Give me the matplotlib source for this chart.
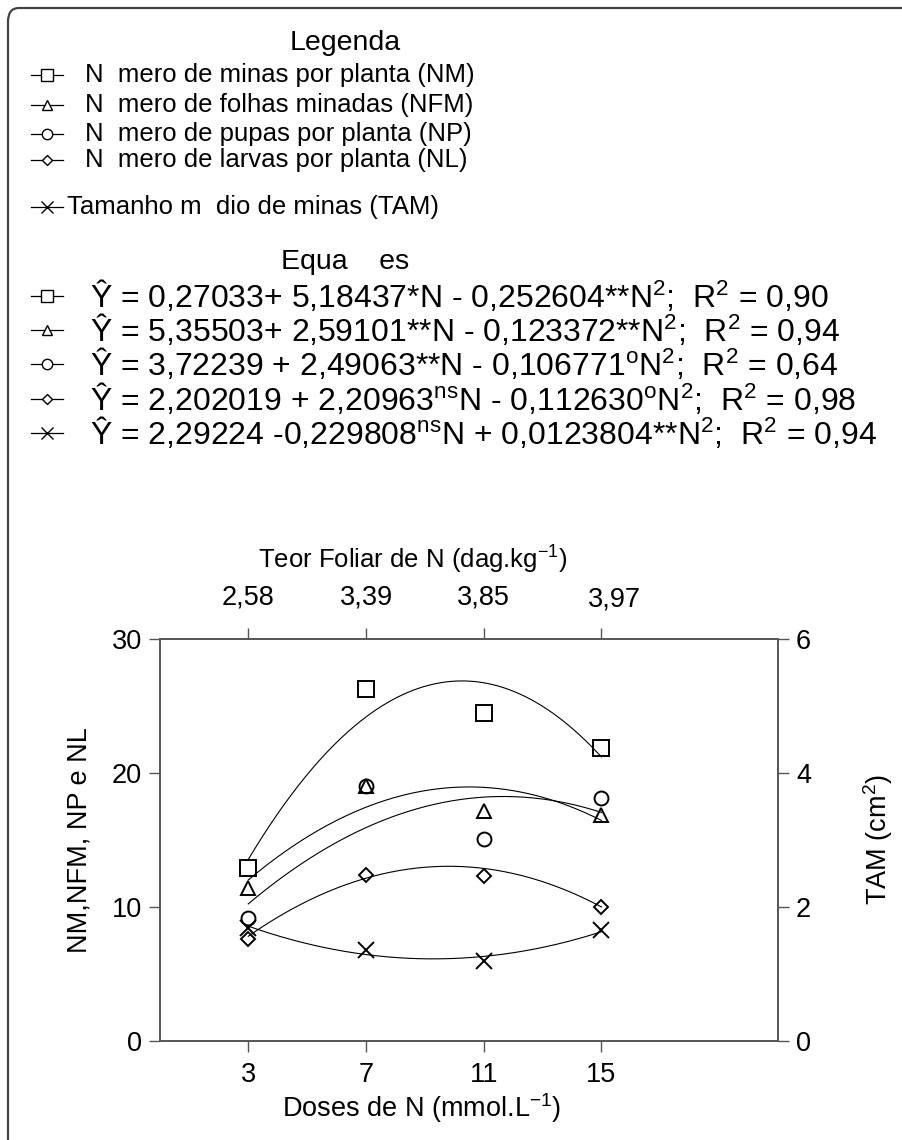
import matplotlib
matplotlib.use("Agg")
import matplotlib.pyplot as plt
import numpy as np
from matplotlib.lines import Line2D
from matplotlib.patches import FancyBboxPatch

plt.rcParams['font.family'] = ['Liberation Sans', 'DejaVu Sans']
plt.rcParams['mathtext.default'] = 'regular'

# ---------------- data ----------------
doses = [3, 7, 11, 15]
teor_foliar = ["2,58", "3,39", "3,85", "3,97"]
nm = [12.9, 26.3, 24.5, 21.9]
nfm = [11.4, 19.0, 17.2, 16.9]
np_pupas = [9.2, 19.0, 15.1, 18.1]
nl = [7.6, 12.4, 12.3, 10.0]
tam = [1.68, 1.36, 1.19, 1.65]

# fitted quadratic coefficients (b0, b1, b2) printed in the chart
coef_nm = [0.27033, 5.18437, -0.252604]
coef_nfm = [5.35503, 2.59101, -0.123372]
coef_np = [3.72239, 2.49063, -0.106771]
coef_nl = [2.202019, 2.20963, -0.112630]
coef_tam = [2.29224, -0.229808, 0.0123804]

legend_labels = [
    "N  mero de minas por planta (NM)",
    "N  mero de folhas minadas (NFM)",
    "N  mero de pupas por planta (NP)",
    "N  mero de larvas por planta (NL)",
    "Tamanho m  dio de minas (TAM)",
]
equations = [
    "Ŷ = 0,27033+ 5,18437*N - 0,252604**N$^{2}$;  R$^{2}$ = 0,90",
    "Ŷ = 5,35503+ 2,59101**N - 0,123372**N$^{2}$;  R$^{2}$ = 0,94",
    "Ŷ = 3,72239 + 2,49063**N - 0,106771$^{o}$N$^{2}$;  R$^{2}$ = 0,64",
    "Ŷ = 2,202019 + 2,20963$^{ns}$N - 0,112630$^{o}$N$^{2}$;  R$^{2}$ = 0,98",
    "Ŷ = 2,29224 -0,229808$^{ns}$N + 0,0123804**N$^{2}$;  R$^{2}$ = 0,94",
]
markers = ['s', '^', 'o', 'D', 'x']
msizes = [11, 10, 10, 7, 12]

W, H = 902, 1140
fig = plt.figure(figsize=(W / 100, H / 100), dpi=100)

def fx(px):
    return px / W

def fy(py):
    return 1 - py / H

LEG = 18.5    # legend text size
EQ = 23       # equation text size
AX = 19.5     # axis text size

# outer rounded frame
frame = FancyBboxPatch((fx(8), fy(1160)), fx(920) - fx(8), fy(8) - fy(1160),
                       boxstyle="round,pad=0,rounding_size=0.012",
                       transform=fig.transFigure, fill=False,
                       edgecolor='#444444', linewidth=1.6)
fig.patches.append(frame)

def key(yy, mk, ms):
    fig.lines.append(Line2D([fx(31), fx(63)], [fy(yy), fy(yy)], color='black',
                            lw=0.9, transform=fig.transFigure))
    fig.lines.append(Line2D([fx(47)], [fy(yy)], marker=mk, markersize=ms * 0.75,
                            mfc='white', mec='black', mew=1.0, color='black',
                            transform=fig.transFigure))

# legend block
fig.text(fx(345), fy(43), "Legenda", ha='center', va='center', fontsize=20.5)
leg_y = [75, 105, 134, 160, 207]
leg_x = [85, 85, 85, 85, 67]
for lab, yy, xx, mk, ms in zip(legend_labels, leg_y, leg_x, markers, msizes):
    key(yy, mk, ms)
    fig.text(fx(xx), fy(yy), lab, ha='left', va='center', fontsize=LEG)

fig.text(fx(345), fy(262), "Equa    es", ha='center', va='center', fontsize=20.5)
eq_y = [296, 330, 364, 399, 433]
for eq, yy, mk, ms in zip(equations, eq_y, markers, msizes):
    key(yy, mk, ms)
    fig.text(fx(90), fy(yy), eq, ha='left', va='center', fontsize=EQ)

# main axes
left, right, top, bottom = 160, 778, 639, 1041
ax = fig.add_axes([fx(left), fy(bottom), fx(right) - fx(left), fy(top) - fy(bottom)])
ax2 = ax.twinx()

ax.set_xlim(0, 21)
ax.set_ylim(0, 30)
ax2.set_ylim(0, 6)

xs = np.linspace(doses[0], doses[-1], 200)

def quad(c, x):
    return c[0] + c[1] * x + c[2] * x ** 2

for vals, coef, mk, ms in zip([nm, nfm, np_pupas, nl], [coef_nm, coef_nfm, coef_np, coef_nl],
                              markers[:4], msizes[:4]):
    ax.plot(xs, quad(coef, xs), color='black', lw=0.8)
    ax.plot(doses, vals, linestyle='none', marker=mk, markersize=ms,
            mfc='none', mec='black', mew=1.4)

ax2.plot(xs, quad(coef_tam, xs), color='black', lw=0.8)
ax2.plot(doses, tam, linestyle='none', marker='x', markersize=msizes[4],
         mec='black', mew=1.4)

spine_col = '#555555'
for a in (ax, ax2):
    for s in a.spines.values():
        s.set_color(spine_col)
        s.set_linewidth(1.2)

ax.set_xticks(doses)
ax.set_xticklabels([str(d) for d in doses])
ax.set_yticks([0, 10, 20, 30])
ax2.set_yticks([0, 2, 4, 6])
ax.tick_params(axis='both', direction='out', length=8, width=1.0, color=spine_col,
               labelsize=AX, pad=5)
ax.tick_params(axis='x', top=True, labeltop=False, pad=7)
ax2.tick_params(axis='y', direction='out', length=8, width=1.0, color=spine_col,
                labelsize=AX, pad=5)

ax.set_ylabel("NM,NFM, NP e NL", fontsize=AX, labelpad=14)
ax2.set_ylabel("TAM (cm$^{2}$)", fontsize=AX, labelpad=36)
fig.text(fx(422), fy(1108), "Doses de N (mmol.L$^{-1}$)", ha='center', va='center',
         fontsize=AX)

# top axis labels: leaf N content
for d, t in zip(doses, teor_foliar):
    ax.text(d, 1.072, t, transform=ax.get_xaxis_transform(), ha='center',
            va='bottom', fontsize=AX)
ax.texts[-1].set_position((doses[-1] + 0.45, 1.065))

fig.text(fx(413), fy(560), "Teor Foliar de N (dag.kg$^{-1}$)", ha='center', va='center',
         fontsize=18.5)

fig.savefig("out.png", dpi=100)
